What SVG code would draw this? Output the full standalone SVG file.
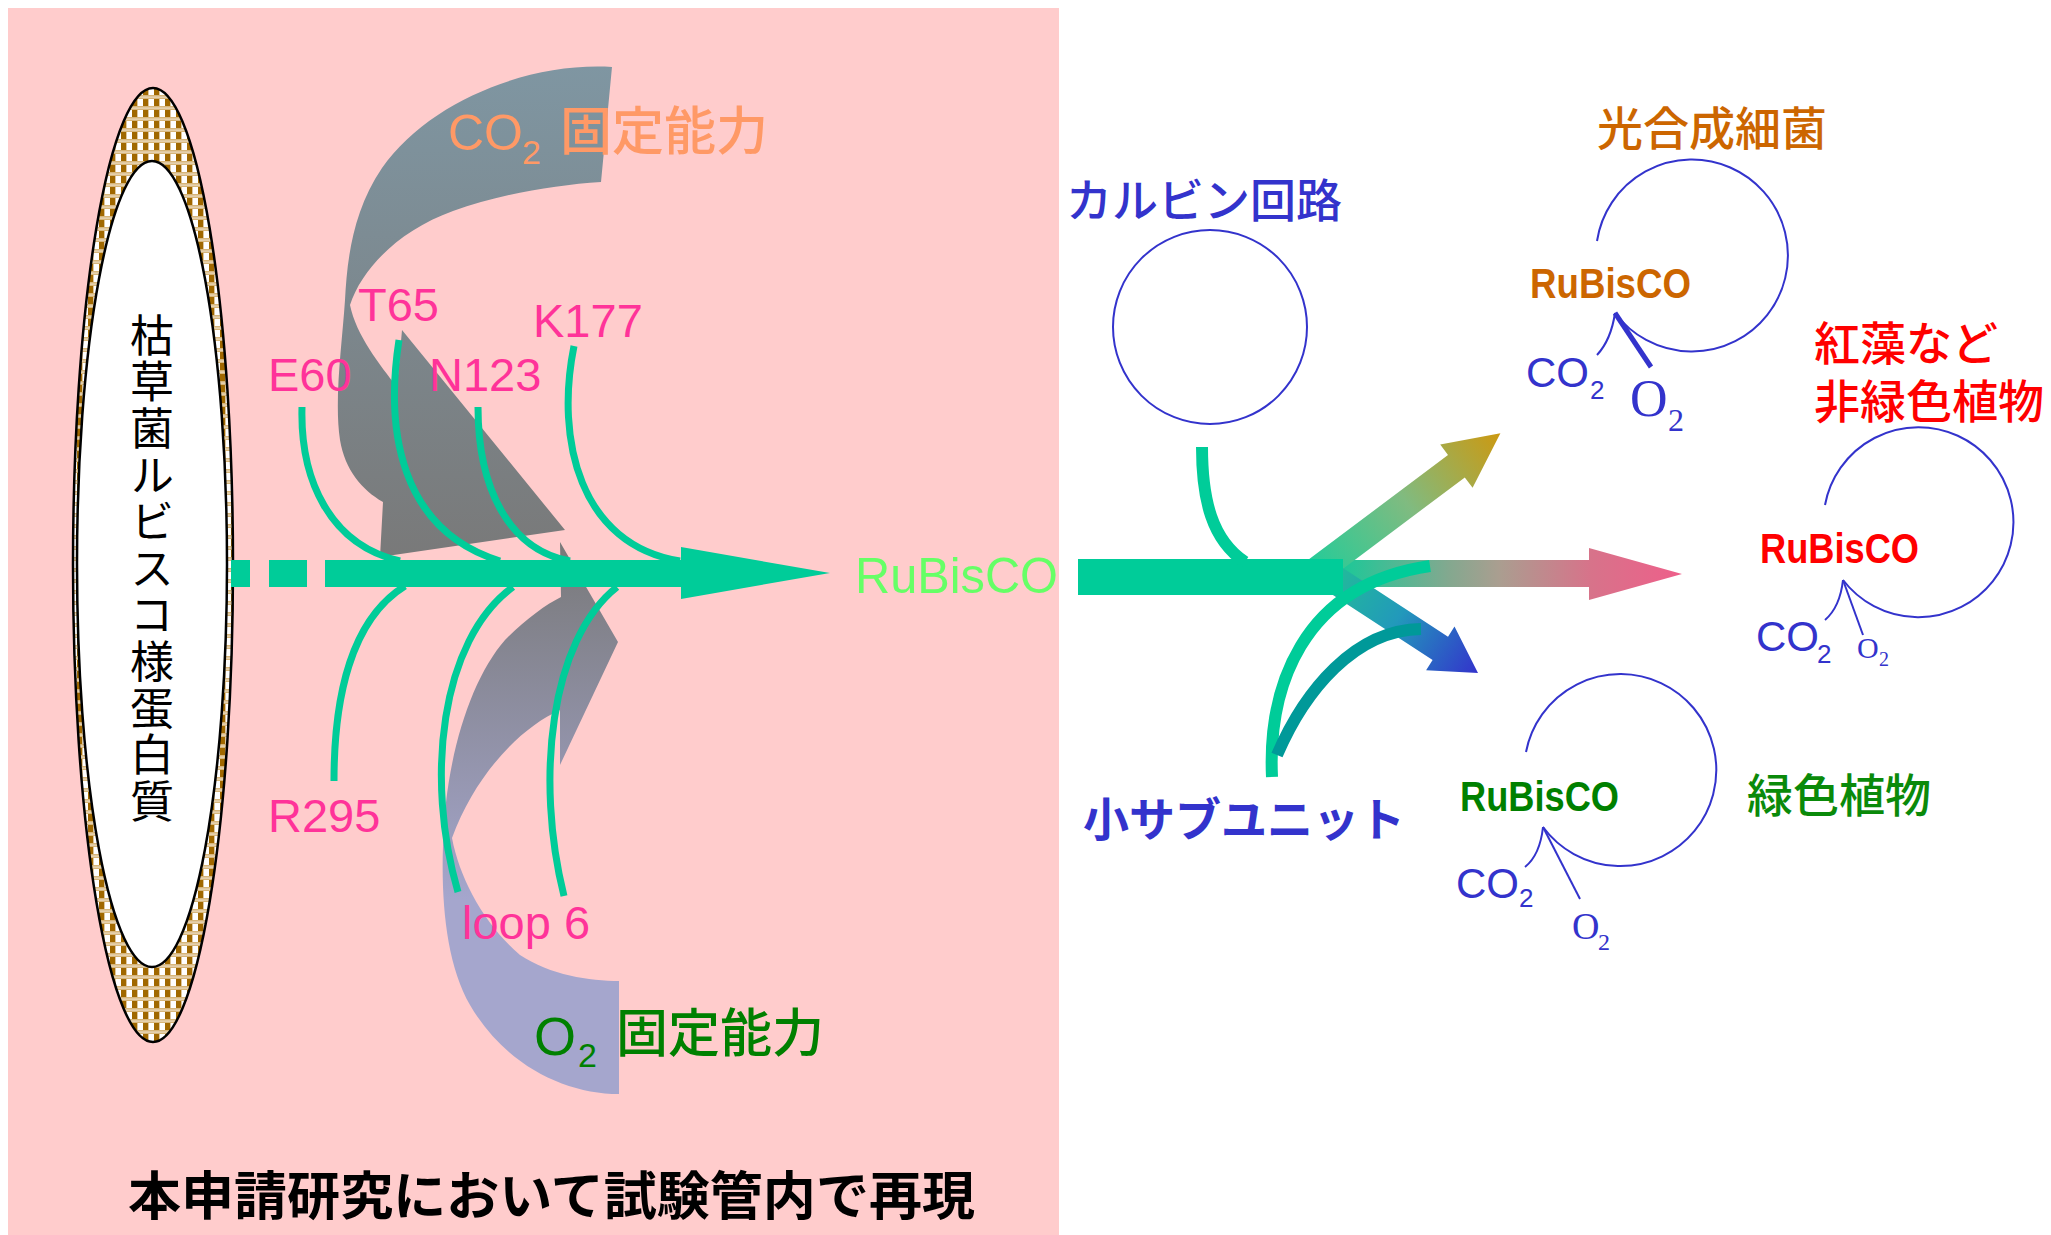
<svg xmlns="http://www.w3.org/2000/svg" width="2051" height="1235" viewBox="0 0 2051 1235">
  <style>
    .jp { font-family: "Noto Sans CJK JP", "Noto Sans", sans-serif; }
    .lat { font-family: "Liberation Sans", Arial, sans-serif; }
    .ser { font-family: "Liberation Serif", "Times New Roman", serif; }
    .res { fill: #FF3399; font-size: 47px; }
    .curve { fill: none; stroke: #00CC99; stroke-width: 7; }
    .thick { fill: none; stroke-width: 12; }
    .cyc { fill: none; stroke: #3333CC; stroke-width: 2; }
    .blue { fill: #3333CC; }
    .rub { font-weight: bold; font-size: 42px; }
  </style>
  <defs>
    <pattern id="check" width="11" height="11" patternUnits="userSpaceOnUse">
      <rect width="11" height="11" fill="#D6B57A"/>
      <rect x="0" y="0" width="5.5" height="7" fill="#A06800"/>
      <rect x="5.5" y="0" width="5.5" height="7" fill="#FFFFFF"/>
      <rect x="0" y="8.5" width="11" height="1.2" fill="#FFFFFF" opacity="0.55"/>
    </pattern>
    <linearGradient id="gUp" gradientUnits="userSpaceOnUse" x1="0" y1="65" x2="0" y2="560">
      <stop offset="0" stop-color="#7F96A2"/>
      <stop offset="1" stop-color="#797979"/>
    </linearGradient>
    <linearGradient id="gDown" gradientUnits="userSpaceOnUse" x1="0" y1="540" x2="0" y2="900">
      <stop offset="0" stop-color="#787878"/>
      <stop offset="1" stop-color="#A5A6CD"/>
    </linearGradient>
    <linearGradient id="gRight" gradientUnits="userSpaceOnUse" x1="1330" y1="0" x2="1682" y2="0">
      <stop offset="0" stop-color="#10CC99"/>
      <stop offset="0.34" stop-color="#84A88F"/>
      <stop offset="0.48" stop-color="#AA9E90"/>
      <stop offset="0.74" stop-color="#D7738A"/>
      <stop offset="1" stop-color="#EE5F8A"/>
    </linearGradient>
    <linearGradient id="gUR" gradientUnits="userSpaceOnUse" x1="1314" y1="573" x2="1500" y2="433">
      <stop offset="0" stop-color="#22CC99"/>
      <stop offset="0.5" stop-color="#80BB80"/>
      <stop offset="1" stop-color="#CC9911"/>
    </linearGradient>
    <linearGradient id="gLR" gradientUnits="userSpaceOnUse" x1="1331" y1="577" x2="1478" y2="673">
      <stop offset="0" stop-color="#22BB99"/>
      <stop offset="0.45" stop-color="#2299BB"/>
      <stop offset="1" stop-color="#3333CC"/>
    </linearGradient>
  </defs>

  <!-- page -->
  <rect width="2051" height="1235" fill="#FFFFFF"/>
  <rect id="in-vitro-area" x="8" y="8" width="1051" height="1227" fill="#FFCCCC"/>

  <!-- B. subtilis RuBisCO-like protein -->
  <g id="rlp">
    <ellipse cx="153" cy="565" rx="80" ry="477" fill="url(#check)" stroke="#000" stroke-width="2.5"/>
    <ellipse cx="152" cy="564" rx="75" ry="403" fill="#FFFFFF" stroke="#000" stroke-width="2.5"/>
    <text class="jp" x="152" y="313" font-size="44" writing-mode="vertical-rl" letter-spacing="2.6" fill="#000">枯草菌ルビスコ様蛋白質</text>
  </g>

  <!-- CO2 fixation ribbon -->
  <g id="co2-ribbon">
    <path fill="url(#gUp)" d="M612,67 C530,62 430,100 382,168 C352,212 347,262 345,300 C342,345 334,400 340,440 C345,470 362,490 383,502 L380,557 L565,530 L402,330 L397,387 C380,365 356,335 350,305 C362,268 400,230 453,211 C500,194 555,185 601,182 Z"/>
    <text class="lat" x="448" y="150" font-size="50" fill="#FF9966">CO</text>
    <text class="lat" x="522" y="164" font-size="34" fill="#FF9966">2</text>
    <text class="jp" x="560" y="150" font-size="52" font-weight="500" fill="#FF9966">固定能力</text>
  </g>

  <!-- O2 fixation ribbon -->
  <g id="o2-ribbon">
    <path fill="url(#gDown)" d="M619,1094 C565,1094 505,1065 470,1005 C447,965 441,905 443,846 C445,760 470,680 505,640 C525,620 545,605 561,597 L560,542 L618,642 L560,765 L560,710 C520,728 475,775 452,838 C460,880 485,925 520,955 C550,975 590,981 619,981 Z"/>
    <text class="lat" x="534" y="1055" font-size="54" fill="#008000">O</text>
    <text class="lat" x="578" y="1067" font-size="34" fill="#008000">2</text>
    <text class="jp" x="616" y="1052" font-size="52" font-weight="500" fill="#008000">固定能力</text>
  </g>

  <!-- residue loops -->
  <g id="residues">
    <path class="curve" d="M302,407 C300,480 330,545 400,561"/>
    <path class="curve" d="M399,340 C385,430 400,530 500,561"/>
    <path class="curve" d="M478,407 C478,490 510,550 570,561"/>
    <path class="curve" d="M574,346 C555,440 580,545 680,561"/>
    <path class="curve" d="M405,586 C350,620 334,700 334,781"/>
    <path class="curve" d="M513,587 C440,640 425,780 458,892"/>
    <path class="curve" d="M617,587 C550,640 535,780 564,896"/>
    <g class="lat res">
      <text x="268" y="391">E60</text>
      <text x="358" y="321">T65</text>
      <text x="429" y="391">N123</text>
      <text x="533" y="337">K177</text>
      <text x="268" y="832">R295</text>
      <text x="462" y="939">loop 6</text>
    </g>
  </g>

  <!-- evolution axis -->
  <g id="connectors">
    <rect x="231" y="560" width="19" height="27" fill="#00CC99"/>
    <rect x="269" y="560" width="38" height="27" fill="#00CC99"/>
    <rect x="325" y="560" width="357" height="27" fill="#00CC99"/>
    <polygon points="681,547 830,573 681,599" fill="#00CC99"/>

    <polygon fill="url(#gRight)" points="1300,560 1589,560 1589,548 1682,574 1589,600 1589,587 1300,587"/>
    <polygon fill="url(#gUR)" points="1305.6,561.8 1448,455 1440.2,444.6 1500.4,433.2 1472.6,487.8 1464.8,477.4 1322.4,584.2"/>
    <polygon fill="url(#gLR)" points="1338.7,565.3 1448,636.7 1454.5,626.6 1478,673 1426.1,670.2 1432.6,660.1 1323.3,588.7"/>
    <rect x="1078" y="559" width="265" height="36" fill="#00CC99"/>

    <path class="thick" stroke="#00CC99" d="M1202,447 C1202,500 1212,540 1245,562"/>
    <path class="thick" stroke="#00CC99" d="M1272,777 C1268,690 1300,585 1430,566"/>
    <path class="thick" stroke="#009999" d="M1277,755 C1305,690 1355,630 1421,629"/>
  </g>

  <g id="rubisco">
    <text class="lat" x="855" y="593" font-size="50" fill="#66FF66" textLength="203" lengthAdjust="spacingAndGlyphs">RuBisCO</text>
  </g>

  <g id="calvin">
    <circle class="cyc" cx="1210" cy="327" r="97"/>
    <text class="jp blue" x="1066" y="217" font-size="46" font-weight="500">カルビン回路</text>
  </g>

  <g id="small-subunit">
    <text class="jp blue" x="1083" y="836" font-size="46" font-weight="bold">小サブユニット</text>
  </g>

  <g id="bacteria">
    <text class="jp" x="1597" y="145" font-size="46" font-weight="500" fill="#CC6600">光合成細菌</text>
    <path class="cyc" d="M1597,241 A96,96 0 1 1 1615,313"/>
    <path class="cyc" d="M1615,313 Q1611,340 1597,355"/>
    <line x1="1615" y1="313" x2="1651" y2="367" stroke="#3333CC" stroke-width="5"/>
    <text class="lat rub" x="1530" y="298" fill="#CC6600" textLength="161" lengthAdjust="spacingAndGlyphs">RuBisCO</text>
    <text class="lat blue" x="1526" y="387" font-size="42">CO</text>
    <text class="lat blue" x="1590" y="399" font-size="26">2</text>
    <text class="ser blue" x="1630" y="416" font-size="52">O</text>
    <text class="ser blue" x="1668" y="431" font-size="32">2</text>
  </g>

  <g id="red-algae">
    <text class="jp" font-size="46" font-weight="500" fill="#FF0000"><tspan x="1814" y="360">紅藻など</tspan><tspan x="1814" y="418">非緑色植物</tspan></text>
    <path class="cyc" d="M1825,505 A95,95 0 1 1 1843,580"/>
    <path class="cyc" d="M1843,580 Q1840,607 1825,620"/>
    <line x1="1843" y1="580" x2="1863" y2="635" stroke="#3333CC" stroke-width="2"/>
    <text class="lat rub" x="1760" y="563" fill="#FF0000" textLength="159" lengthAdjust="spacingAndGlyphs">RuBisCO</text>
    <text class="lat blue" x="1756" y="651" font-size="42">CO</text>
    <text class="lat blue" x="1817" y="663" font-size="26">2</text>
    <text class="ser blue" x="1857" y="658" font-size="30">O</text>
    <text class="ser blue" x="1879" y="666" font-size="20">2</text>
  </g>

  <g id="green-plants">
    <text class="jp" x="1747" y="812" font-size="46" font-weight="500" fill="#0A8A0A">緑色植物</text>
    <path class="cyc" d="M1526,752 A96,96 0 1 1 1543,827"/>
    <path class="cyc" d="M1543,827 Q1540,855 1525,867"/>
    <line x1="1543" y1="827" x2="1580" y2="899" stroke="#3333CC" stroke-width="2"/>
    <text class="lat rub" x="1460" y="811" fill="#008000" textLength="159" lengthAdjust="spacingAndGlyphs">RuBisCO</text>
    <text class="lat blue" x="1456" y="898" font-size="42">CO</text>
    <text class="lat blue" x="1519" y="907" font-size="26">2</text>
    <text class="ser blue" x="1572" y="939" font-size="38">O</text>
    <text class="ser blue" x="1598" y="950" font-size="24">2</text>
  </g>

  <g id="caption">
    <text class="jp" x="128" y="1215" font-size="52" font-weight="bold" fill="#000" textLength="847" lengthAdjust="spacingAndGlyphs">本申請研究において試験管内で再現</text>
  </g>
</svg>
